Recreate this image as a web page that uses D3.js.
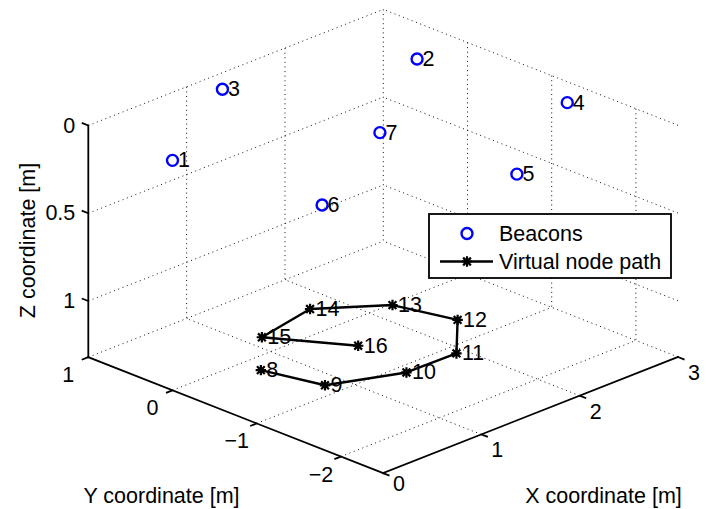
<!DOCTYPE html>
<html>
<head>
<meta charset="utf-8">
<script src="https://cdn.jsdelivr.net/npm/d3@7"></script>
<style>
  html, body { margin: 0; padding: 0; background: #fff; }
  svg { display: block; }
  text { font-family: "Liberation Sans", Arial, Helvetica, sans-serif; fill: #000; }
</style>
</head>
<body>
<svg id="chart" width="706" height="509"></svg>
<script>
// Beacon positions (ids 1..7), metres
const beaconIds = ["1", "2", "3", "4", "5", "6", "7"];
const beaconX = [0.00, 2.53, 1.15, 2.73, 1.55, 0.16, 1.39];
const beaconY = [0.00, 0.05, 0.75, -1.50, -2.28, -1.59, -0.84];
const beaconZ = [0.01, 0.00, 0.00, 0.00, 0.00, 0.00, 0.00];

// Virtual node path (nodes 8..16), metres
const pathIds = ["8", "9", "10", "11", "12", "13", "14", "15", "16"];
const pathX = [0.71, 0.84, 1.42, 1.92, 2.36, 2.22, 1.75, 1.14, 1.52];
const pathY = [-0.22, -0.83, -1.12, -1.13, -0.63, -0.02, 0.41, 0.27, -0.43];
const pathZ = [1.32, 1.32, 1.32, 1.32, 1.32, 1.32, 1.32, 1.32, 1.32];

// Axis limits and ticks
const xLim = [0, 3], yLim = [-2.5, 1], zLim = [0, 1.32];
const xTicks = [0, 1, 2, 3];
const yTicks = [-2, -1, 0, 1];
const zTicks = [0, 0.5, 1];
const xTickLabels = ["0", "1", "2", "3"];
const yTickLabels = ["\u22122", "\u22121", "0", "1"];
const zTickLabels = ["0", "0.5", "1"];

const svg = d3.select("#chart");
const FONT = 21.5;

// Normalised position along each axis (z axis runs downwards)
const xS = d3.scaleLinear().domain(xLim).range([0, 1]);
const yS = d3.scaleLinear().domain([yLim[1], yLim[0]]).range([0, 1]);
const zS = d3.scaleLinear().domain(zLim).range([0, 1]);

// Screen-space box: origin at (x=0, y=1, z=0) and edge vectors for each axis
const O = [88.3, 125.5];
const EX = [295.0, -116.1];
const EY = [294.7, 115.9];
const EZ = [0, 231.7];

function proj(x, y, z) {
  const a = xS(x), b = yS(y), c = zS(z);
  return [O[0] + a * EX[0] + b * EY[0] + c * EZ[0],
          O[1] + a * EX[1] + b * EY[1] + c * EZ[1]];
}
function unit(v) { const l = Math.hypot(v[0], v[1]); return [v[0] / l, v[1] / l]; }

// ---- grid (dotted) on floor and two back walls ----
const gridSegs = [];
const zB = zLim[1];
[1, 2, 3].forEach(x => gridSegs.push([proj(x, yLim[0], zB), proj(x, yLim[1], zB)]));
yTicks.forEach(y => gridSegs.push([proj(xLim[0], y, zB), proj(xLim[1], y, zB)]));
[1, 2, 3].forEach(x => gridSegs.push([proj(x, yLim[1], zLim[0]), proj(x, yLim[1], zB)]));
zTicks.forEach(z => gridSegs.push([proj(xLim[0], yLim[1], z), proj(xLim[1], yLim[1], z)]));
[-2, -1, 0].forEach(y => gridSegs.push([proj(xLim[1], y, zLim[0]), proj(xLim[1], y, zB)]));
zTicks.forEach(z => gridSegs.push([proj(xLim[1], yLim[0], z), proj(xLim[1], yLim[1], z)]));

svg.append("g").selectAll("line").data(gridSegs).join("line")
  .attr("x1", d => d[0][0]).attr("y1", d => d[0][1])
  .attr("x2", d => d[1][0]).attr("y2", d => d[1][1])
  .attr("stroke", "#111").attr("stroke-width", 1)
  .attr("stroke-dasharray", "1 3.6");

// ---- axis lines ----
const axisG = svg.append("g").attr("stroke", "#000").attr("stroke-width", 1.8)
  .attr("fill", "none").attr("stroke-linecap", "square");
const axisSegs = [
  [proj(0, yLim[1], zLim[0]), proj(0, yLim[1], zB)],
  [proj(0, yLim[1], zB), proj(0, yLim[0], zB)],
  [proj(xLim[0], yLim[0], zB), proj(xLim[1], yLim[0], zB)]
];
axisG.selectAll("line.ax").data(axisSegs).join("line").attr("class", "ax")
  .attr("x1", d => d[0][0]).attr("y1", d => d[0][1])
  .attr("x2", d => d[1][0]).attr("y2", d => d[1][1]);

// ticks
const TL = 7;
const dirPlusY = unit([-EY[0], -EY[1]]);
const dirMinusX = unit([-EX[0], -EX[1]]);
const dirMinusY = unit(EY);
const tickSegs = [];
zTicks.forEach(z => { const p = proj(0, yLim[1], z); tickSegs.push([p, [p[0] + dirPlusY[0] * TL, p[1] + dirPlusY[1] * TL]]); });
yTicks.forEach(y => { const p = proj(0, y, zB); tickSegs.push([p, [p[0] + dirMinusX[0] * TL, p[1] + dirMinusX[1] * TL]]); });
xTicks.forEach(x => { const p = proj(x, yLim[0], zB); tickSegs.push([p, [p[0] + dirMinusY[0] * TL, p[1] + dirMinusY[1] * TL]]); });
axisG.selectAll("line.tk").data(tickSegs).join("line").attr("class", "tk")
  .attr("x1", d => d[0][0]).attr("y1", d => d[0][1])
  .attr("x2", d => d[1][0]).attr("y2", d => d[1][1])
  .attr("stroke-linecap", "butt");

// tick labels
const tickText = svg.append("g").style("font-size", FONT + "px");
tickText.selectAll("text.z").data(zTicks).join("text").attr("class", "z")
  .attr("x", z => proj(0, yLim[1], z)[0] - 13)
  .attr("y", z => proj(0, yLim[1], z)[1])
  .attr("text-anchor", "end").attr("dominant-baseline", "central")
  .text((z, i) => zTickLabels[i]);
tickText.selectAll("text.y").data(yTicks).join("text").attr("class", "y")
  .attr("x", y => proj(0, y, zB)[0] - 20)
  .attr("y", y => proj(0, y, zB)[1] + 18)
  .attr("text-anchor", "middle").attr("dominant-baseline", "central")
  .text((y, i) => yTickLabels[i]);
tickText.selectAll("text.x").data(xTicks).join("text").attr("class", "x")
  .attr("x", x => proj(x, yLim[0], zB)[0] + 16)
  .attr("y", (x, i) => proj(x, yLim[0], zB)[1] + (i === 0 ? 11 : 16))
  .attr("text-anchor", "middle").attr("dominant-baseline", "central")
  .text((x, i) => xTickLabels[i]);

// axis titles
const titles = svg.append("g").style("font-size", FONT + "px").attr("text-anchor", "middle")
  .attr("dominant-baseline", "central");
titles.append("text").attr("x", 603.5).attr("y", 496).text("X coordinate [m]");
titles.append("text").attr("x", 161.5).attr("y", 496).text("Y coordinate [m]");
titles.append("text").attr("transform", "translate(28,240.5) rotate(-90)").text("Z coordinate [m]");

// ---- virtual node path ----
const pathPts = pathX.map((x, i) => proj(x, pathY[i], pathZ[i]));
svg.append("path").datum(pathPts)
  .attr("d", d3.line())
  .attr("fill", "none").attr("stroke", "#000").attr("stroke-width", 2.4)
  .attr("stroke-linejoin", "round");

function star(g, cx, cy, r) {
  const d = r * 0.75;
  g.append("path")
    .attr("d", `M${cx - r},${cy}L${cx + r},${cy}M${cx},${cy - r}L${cx},${cy + r}` +
               `M${cx - d},${cy - d}L${cx + d},${cy + d}M${cx - d},${cy + d}L${cx + d},${cy - d}`)
    .attr("stroke", "#000").attr("stroke-width", 2.2).attr("fill", "none");
}
const starG = svg.append("g");
pathPts.forEach(p => star(starG, p[0], p[1], 5.2));

// ---- beacons ----
const beaconPts = beaconX.map((x, i) => proj(x, beaconY[i], beaconZ[i]));
svg.append("g").selectAll("circle").data(beaconPts).join("circle")
  .attr("cx", d => d[0]).attr("cy", d => d[1]).attr("r", 5.5)
  .attr("fill", "none").attr("stroke", "#0000ff").attr("stroke-width", 2.4);

// point labels
const labelG = svg.append("g").style("font-size", FONT + "px").attr("dominant-baseline", "central");
labelG.selectAll("text.b").data(beaconPts).join("text").attr("class", "b")
  .attr("x", d => d[0] + 5.5).attr("y", d => d[1])
  .text((d, i) => beaconIds[i]);
labelG.selectAll("text.p").data(pathPts).join("text").attr("class", "p")
  .attr("x", d => d[0] + 5.5).attr("y", d => d[1])
  .text((d, i) => pathIds[i]);

// ---- legend ----
const leg = svg.append("g").attr("transform", "translate(429,214)");
leg.append("rect").attr("width", 242).attr("height", 64)
  .attr("fill", "#fff").attr("stroke", "#000").attr("stroke-width", 1.8);
leg.append("circle").attr("cx", 38).attr("cy", 19.5).attr("r", 5.5)
  .attr("fill", "none").attr("stroke", "#0000ff").attr("stroke-width", 2.4);
leg.append("text").attr("x", 70).attr("y", 19.5).attr("dominant-baseline", "central")
  .style("font-size", FONT + "px").text("Beacons");
leg.append("line").attr("x1", 11).attr("x2", 64).attr("y1", 47.5).attr("y2", 47.5)
  .attr("stroke", "#000").attr("stroke-width", 2.4);
star(leg, 38, 47.5, 5.2);
leg.append("text").attr("x", 70).attr("y", 47.5).attr("dominant-baseline", "central")
  .style("font-size", FONT + "px").text("Virtual node path");
</script>
</body>
</html>
